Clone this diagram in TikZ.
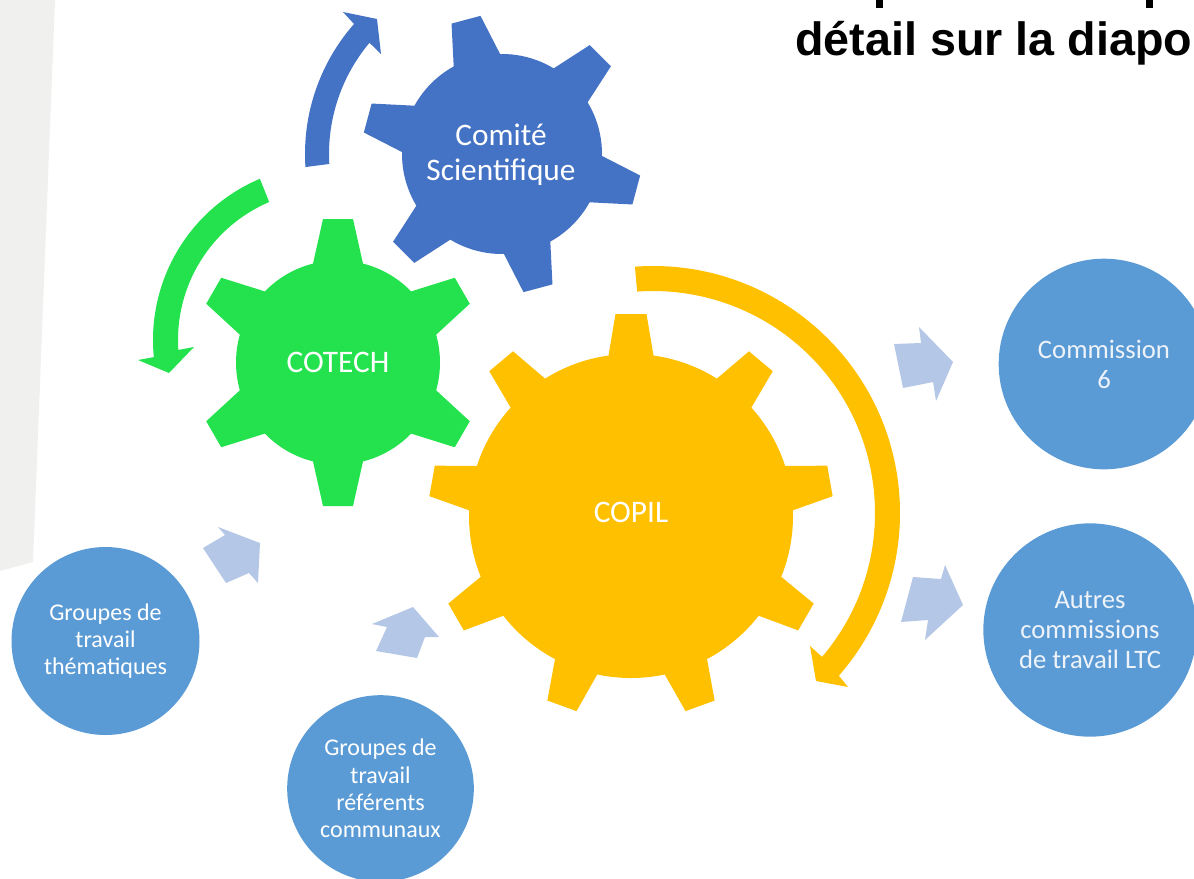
\documentclass[tikz,border=0pt]{standalone}
\usepackage{fontspec}
\setmainfont{Carlito}
\newfontfamily\arialfont{Liberation Sans}
\usetikzlibrary{calc}
\definecolor{gblue}{HTML}{4472C4}
\definecolor{ggreen}{HTML}{24E24D}
\definecolor{gyellow}{HTML}{FFC000}
\definecolor{cblue}{HTML}{5B9BD5}
\definecolor{lblue}{HTML}{B4C7E7}
\definecolor{panelgray}{HTML}{F0F0EE}
\definecolor{softwhite}{HTML}{EEF3FA}
% #1 centre coordinate, #2 body radius, #3 tooth radius, #4 teeth, #5 first angle, #6 tip half width, #7 root half width, #8 colour
\newcommand\drawgear[8]{%
  \fill[#8] (#1) circle[radius=#2];
  \pgfmathsetmacro\gxb{(#2)*sqrt(1-((#7)/(#2))^2)}%
  \foreach \k in {1,...,#4}{%
    \pgfmathsetmacro\gang{#5+360/#4*\k}%
    \fill[#8,shift={(#1)},rotate=\gang] (\gxb-25,-#7) -- (\gxb,-#7) -- (#3,-#6) -- (#3,#6) -- (\gxb,#7) -- (\gxb-25,#7) -- cycle;
  }}
\begin{document}
\begin{tikzpicture}[x=0.75pt,y=-0.75pt,
  geartext/.style={text=white,font=\fontsize{23.5}{26}\selectfont,align=center},
  bubble/.style={circle,fill=cblue,text=white,align=center,inner sep=0pt,font=\fontsize{18}{20.5}\selectfont},
  bigbubble/.style={bubble,text=softwhite,font=\fontsize{20}{22.5}\selectfont},
  blockarrow/.style={fill=lblue}]
\useasboundingbox (0,0) rectangle (1194,878);
\clip (0,0) rectangle (1194,878);
% background panel
\fill[panelgray] (0,0) -- (55,0) -- (33,562) -- (0,571) -- cycle;
% title fragments
\fill[black] (876,0) rectangle (883,8);
\fill[black] (1146,0) rectangle (1153,8);
\node[anchor=base west,inner sep=0pt,font=\arialfont\bfseries\fontsize{35}{40}\selectfont] (title) at (795,55) {détail sur la diapo};
% centres
\coordinate (gC) at (338,362.5);
\coordinate (bC) at (502,154);
\coordinate (yC) at (631,516);
\coordinate (gA) at (328,340);
\coordinate (yA) at (653,513);
% curved arrows
\fill[ggreen] ($(gA)+(-112.9:175)$) arc[start angle=-112.9, end angle=-185.6, radius=175]
  -- (138,360) -- (169,373) -- (194,347) -- ($(gA)+(-183.8:150)$)
  arc[start angle=-183.8, end angle=-113.1, radius=150] -- cycle;
\fill[gblue] ($(bC)+(-183.3:173)$) arc[start angle=-183.3, end angle=-140, radius=173]
  -- (381,54) -- (377,19) -- (343,12) -- ($(bC)+(-138.7:197)$)
  arc[start angle=-138.7, end angle=-183.8, radius=197] -- cycle;
\fill[gyellow] ($(yA)+(-94.2:247)$) arc[start angle=-94.2, end angle=41.2, radius=247]
  -- (848,687) -- (816,681) -- (810,646) -- ($(yA)+(40.4:222)$)
  arc[start angle=40.4, end angle=-94.1, radius=222] -- cycle;
% gears
\drawgear{gC}{102}{143.5}{6}{30}{15}{25}{ggreen}
\drawgear{bC}{100}{139}{6}{45}{15}{24}{gblue}
\drawgear{yC}{162}{202}{9}{50}{15.5}{22.5}{gyellow}
\node[geartext] (cotech) at (338,362) {COTECH};
\node[geartext] (comite) at (501,155) {Comité\\Scientifique};
\node[geartext] (copil) at (631,512) {COPIL};
% bubbles
\node[bigbubble,minimum size=158pt] (c6) at (1104,364) {Commission\\6};
\node[bigbubble,minimum size=160pt] (ltc) at (1090,630) {Autres\\commissions\\de travail LTC};
\node[bubble,minimum size=141pt] (gtt) at (105.5,641) {Groupes de\\travail\\thématiques};
\node[bubble,minimum size=140pt] (gtr) at (380.5,788.5) {Groupes de\\travail\\référents\\communaux};
% block arrows
\fill[blockarrow] (894,344) -- (921,343) -- (919,327) -- (953,362) -- (936,401) -- (933,382) -- (903,388) -- cycle;
\fill[blockarrow] (913,577) -- (941,579) -- (945,565) -- (963,605) -- (925,640) -- (928,620) -- (901,622) -- cycle;
\fill[blockarrow] (203,548) -- (225,535) -- (218,527) -- (260,543) -- (258,583) -- (249,573) -- (226,583) -- cycle;
\fill[blockarrow] (376,651) -- (387,627) -- (372,624) -- (413,607) -- (439,637) -- (425,637) -- (417,658) -- cycle;
\end{tikzpicture}
\end{document}
